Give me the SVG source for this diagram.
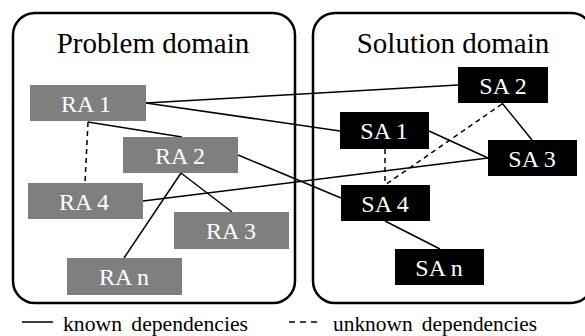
<svg xmlns="http://www.w3.org/2000/svg" width="585" height="336" viewBox="0 0 585 336">
<style>
.panel{fill:none;stroke:#000;stroke-width:2.5}
.title{font-family:"Liberation Serif",serif;font-size:29px;fill:#000;text-anchor:middle}
.ra{fill:#7f7f7f}
.sa{fill:#000}
.lbl{font-family:"Liberation Serif",serif;font-size:24px;fill:#fff;text-anchor:middle}
.k{stroke:#000;stroke-width:1.5;fill:none}
.u{stroke:#000;stroke-width:1.5;fill:none;stroke-dasharray:5 4}
.leg{font-family:"Liberation Serif",serif;font-size:22px;fill:#000;word-spacing:4px}
</style>
<rect width="585" height="336" fill="#fff"/>
<g id="problem-domain">
<rect class="panel" x="13" y="13" width="282" height="290" rx="22"/>
<text class="title" x="153" y="53">Problem domain</text>
</g>
<g id="solution-domain">
<rect class="panel" x="313" y="13" width="280" height="290" rx="22"/>
<text class="title" x="453" y="53">Solution domain</text>
</g>
<g id="connectors">
<line class="k" x1="146" y1="103" x2="458" y2="85"/>
<line class="k" x1="146" y1="103" x2="340" y2="131"/>
<line class="k" x1="88" y1="122" x2="182" y2="137"/>
<line class="u" x1="88" y1="122" x2="85" y2="183"/>
<line class="k" x1="238" y1="155" x2="341" y2="198"/>
<line class="k" x1="143" y1="201" x2="488" y2="158"/>
<line class="k" x1="181" y1="173" x2="232" y2="212"/>
<line class="k" x1="181" y1="173" x2="124" y2="258"/>
<line class="k" x1="429" y1="131" x2="488" y2="158"/>
<line class="k" x1="502" y1="103" x2="532" y2="140"/>
<line class="u" x1="502" y1="104" x2="385" y2="185"/>
<line class="u" x1="385" y1="149" x2="385" y2="185"/>
<line class="k" x1="385" y1="221" x2="440" y2="249"/>
</g>
<g id="RA1"><rect class="ra" x="30" y="85" width="116" height="36"/><text class="lbl" x="86" y="112">RA 1</text></g>
<g id="RA2"><rect class="ra" x="123" y="137" width="115" height="36"/><text class="lbl" x="180" y="164">RA 2</text></g>
<g id="RA4"><rect class="ra" x="28" y="183" width="115" height="36"/><text class="lbl" x="84" y="210">RA 4</text></g>
<g id="RA3"><rect class="ra" x="174" y="212" width="115" height="37"/><text class="lbl" x="231" y="239">RA 3</text></g>
<g id="RAn"><rect class="ra" x="67" y="258" width="115" height="37"/><text class="lbl" x="124" y="285">RA n</text></g>
<g id="SA2"><rect class="sa" x="458" y="67" width="90" height="36"/><text class="lbl" x="503" y="94">SA 2</text></g>
<g id="SA1"><rect class="sa" x="340" y="112" width="89" height="37"/><text class="lbl" x="384" y="139">SA 1</text></g>
<g id="SA3"><rect class="sa" x="488" y="140" width="89" height="36"/><text class="lbl" x="532" y="167">SA 3</text></g>
<g id="SA4"><rect class="sa" x="341" y="185" width="89" height="36"/><text class="lbl" x="385" y="212">SA 4</text></g>
<g id="SAn"><rect class="sa" x="395" y="249" width="89" height="36"/><text class="lbl" x="439" y="276">SA n</text></g>
<g id="legend">
<line class="k" x1="22" y1="322" x2="53" y2="322"/>
<text class="leg" x="63" y="331" textLength="185" lengthAdjust="spacingAndGlyphs">known dependencies</text>
<line class="u" x1="289" y1="322" x2="317" y2="322" style="stroke-dasharray:6 5"/>
<text class="leg" x="333" y="331" textLength="204" lengthAdjust="spacingAndGlyphs">unknown dependencies</text>
</g>
</svg>
